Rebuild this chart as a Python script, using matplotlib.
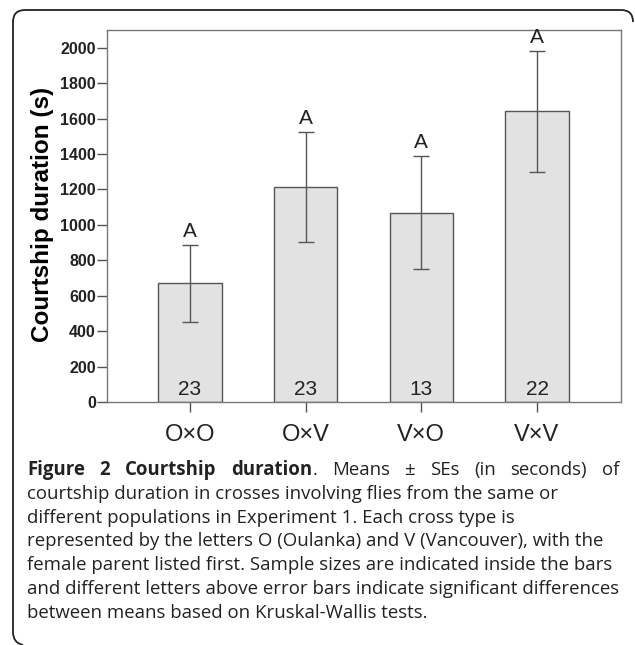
import matplotlib
matplotlib.use("Agg")
import matplotlib.pyplot as plt
from matplotlib.path import Path
from matplotlib.patches import PathPatch

# data
crosses = ["O×O", "O×V", "V×O", "V×V"]
means = [670, 1215, 1069, 1640]
ses = [218, 310, 320, 340]
sample_sizes = [23, 23, 13, 22]
letters = ["A", "A", "A", "A"]
yticks = [0, 200, 400, 600, 800, 1000, 1200, 1400, 1600, 1800, 2000]

caption_first = [("Figure", "bold"), ("2", "bold"), ("Courtship", "bold"),
                 ("duration", "bold"), ("Means", "normal"), ("±", "normal"),
                 ("SEs", "normal"), ("(in", "normal"), ("seconds)", "normal"),
                 ("of", "normal")]
caption_rest = [
    "courtship duration in crosses involving flies from the same or",
    "different populations in Experiment 1. Each cross type is",
    "represented by the letters O (Oulanka) and V (Vancouver), with the",
    "female parent listed first. Sample sizes are indicated inside the bars",
    "and different letters above error bars indicate significant differences",
    "between means based on Kruskal-Wallis tests.",
]

W, H = 635, 645
fig = plt.figure(figsize=(W / 100, H / 100), dpi=100)
fig.patch.set_facecolor("white")

def fx(px):
    return px / W

def fy(py):
    return 1 - py / H

ax = fig.add_axes([fx(107), fy(402), fx(621) - fx(107), fy(30) - fy(402)])
pos = list(range(len(crosses)))
ax.bar(pos, means, width=0.55, color="#e2e2e2", edgecolor="#555555", linewidth=1.0, zorder=2)
ax.errorbar(pos, means, yerr=ses, fmt="none", ecolor="#555555", elinewidth=1.0,
            capsize=6, capthick=1.0, zorder=3)

for x, m, s, n, l in zip(pos, means, ses, sample_sizes, letters):
    ax.annotate(l, (x, m + s), xytext=(0, 3), textcoords="offset points",
                ha="center", va="bottom", fontsize=15, family="Liberation Sans", color="#222222")
    ax.annotate(str(n), (x, 0), xytext=(0, 2), textcoords="offset points",
                ha="center", va="bottom", fontsize=15, family="Liberation Sans", color="#222222")

ax.set_xlim(-0.717, 3.726)
ax.set_ylim(0, 2100)
ax.set_xticks(pos)
ax.set_xticklabels(crosses, fontsize=17, family="Liberation Sans", color="#222222")
ax.set_yticks(yticks)
ax.set_yticklabels([str(t) for t in yticks], fontsize=11.5, fontweight="bold",
                   family="Liberation Sans", color="#222222")
ax.tick_params(axis="y", length=7, width=1, color="#555555", pad=1)
ax.tick_params(axis="x", length=7, width=1, color="#555555", pad=9)
for sp in ax.spines.values():
    sp.set_color("#777777")
    sp.set_linewidth(1.0)
fig.text(fx(43), fy(214), "Courtship duration (s)", rotation=90, ha="center", va="center",
         fontsize=17.5, fontweight="bold", family="Liberation Sans")

# rounded frame around figure + caption (top and left sides)
pts = [(23, 645), (13, 643), (13, 632), (13, 22), (13, 10), (25, 10),
       (621, 10), (633, 10), (633, 22)]
codes = [Path.MOVETO, Path.CURVE3, Path.CURVE3, Path.LINETO, Path.CURVE3, Path.CURVE3,
         Path.LINETO, Path.CURVE3, Path.CURVE3]
verts = [(fx(a), fy(b)) for a, b in pts]
fig.add_artist(PathPatch(Path(verts, codes), transform=fig.transFigure,
                         fill=False, edgecolor="#222222", linewidth=1.3))

# caption
cap_font = "Open Sans"
cap_size = 13.4
x0, x1 = 27, 619
base0 = 475
lead = 23.8

renderer = fig.canvas.get_renderer()
pieces = []
for word, weight in caption_first:
    t = fig.text(0, 0, word, fontsize=cap_size, fontweight=weight, family=cap_font,
                 color="#222222", va="baseline")
    pieces.append(t)
# period glued to "duration"
dot = fig.text(0, 0, ".", fontsize=cap_size, family=cap_font, color="#222222", va="baseline")
widths = [t.get_window_extent(renderer).width for t in pieces]
dot_w = dot.get_window_extent(renderer).width
total = sum(widths) + dot_w
gap = (x1 - x0 - total) / (len(pieces) - 1)
cur = x0
for i, t in enumerate(pieces):
    t.set_position((fx(cur), fy(base0)))
    cur += widths[i]
    if caption_first[i][0] == "duration":
        dot.set_position((fx(cur), fy(base0)))
        cur += dot_w
    cur += gap

for i, line in enumerate(caption_rest):
    fig.text(fx(x0), fy(base0 + lead * (i + 1)), line, fontsize=cap_size,
             family=cap_font, color="#222222", va="baseline")

fig.savefig("out.png", dpi=100)
